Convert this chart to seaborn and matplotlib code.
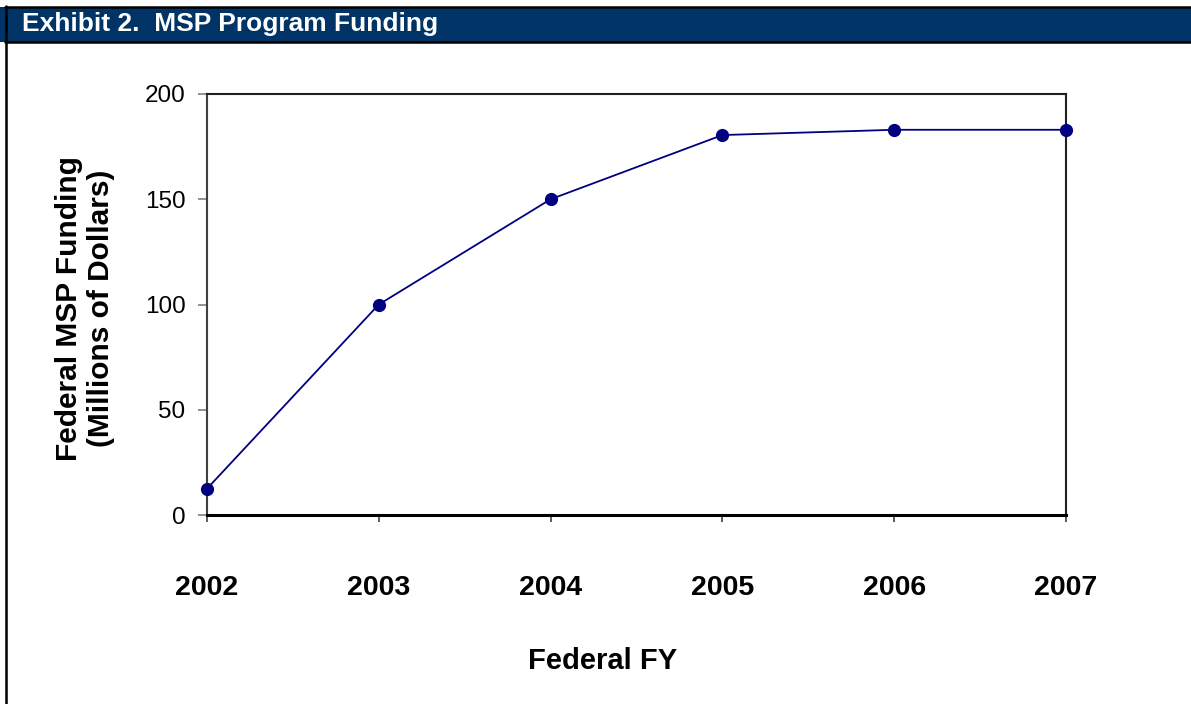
import numpy as np
import pandas as pd
import matplotlib
matplotlib.use("Agg")
import matplotlib.pyplot as plt
import seaborn as sns

# funding values (millions of dollars)
years = [2002, 2003, 2004, 2005, 2006, 2007]
funding = [12.5, 100, 150, 180.5, 183, 183]
yticks = [0, 50, 100, 150, 200]

sns.set_style("white")
plt.rcParams['font.family'] = ['Liberation Sans', 'DejaVu Sans']
plt.rcParams['text.color'] = 'black'
plt.rcParams['axes.labelcolor'] = 'black'
plt.rcParams['xtick.color'] = 'black'
plt.rcParams['ytick.color'] = 'black'

df = pd.DataFrame({"year": years, "funding": funding})

fig = plt.figure(figsize=(11.91, 7.04), dpi=100)
ax = fig.add_axes([207/1191, 1 - 515/704, 859/1191, 421/704])

sns.lineplot(data=df, x="year", y="funding", ax=ax, color="#000080",
             linewidth=1.3, marker="o", markersize=9.5, markeredgewidth=0,
             clip_on=False, zorder=5)

ax.set_xlim(years[0], years[-1])
ax.set_ylim(0, 200)
ax.set_xticks(years)
ax.set_yticks(yticks)
ax.set_xticklabels([str(y) for y in years], fontsize=20.5, fontweight="bold")
ax.set_yticklabels([str(v) for v in yticks], fontsize=17.5)

ax.tick_params(axis="y", direction="out", length=6.5, width=1.2,
               color="#808080", labelcolor="black", pad=9, left=True)
ax.tick_params(axis="x", direction="out", length=5, width=1.2,
               color="#404040", labelcolor="black", pad=38, bottom=True)

for side in ["top", "right"]:
    ax.spines[side].set_color("#202020")
    ax.spines[side].set_linewidth(1.5)
ax.spines["left"].set_color("#404040")
ax.spines["left"].set_linewidth(1.5)
ax.spines["bottom"].set_color("black")
ax.spines["bottom"].set_linewidth(2.2)

ax.set_xlabel("Federal FY", fontsize=21, fontweight="bold", va="center")
ax.xaxis.set_label_coords(0.46, -0.347)
ax.set_ylabel("Federal MSP Funding\n(Millions of Dollars)", fontsize=21.5,
              fontweight="bold", va="center", linespacing=1.2)
ax.yaxis.set_label_coords(-0.142, 0.49)

# header bar and frame
fig.patches.append(plt.Rectangle((0, 1 - 42/704), 1, 35/704, transform=fig.transFigure,
                                 facecolor="#003366", edgecolor="none", zorder=0))
fig.lines.append(plt.Line2D([5/1191, 1], [1 - 7/704, 1 - 7/704], transform=fig.transFigure,
                            color="black", linewidth=1.8))
fig.lines.append(plt.Line2D([5/1191, 1], [1 - 42/704, 1 - 42/704], transform=fig.transFigure,
                            color="black", linewidth=1.8))
fig.lines.append(plt.Line2D([6/1191, 6/1191], [0, 1 - 6/704], transform=fig.transFigure,
                            color="black", linewidth=1.8))
fig.text(22/1191, 1 - 24/704, "Exhibit 2.  MSP Program Funding", color="white",
         fontsize=19, fontweight="bold", va="center", ha="left")

fig.savefig("out.png", dpi=100)
